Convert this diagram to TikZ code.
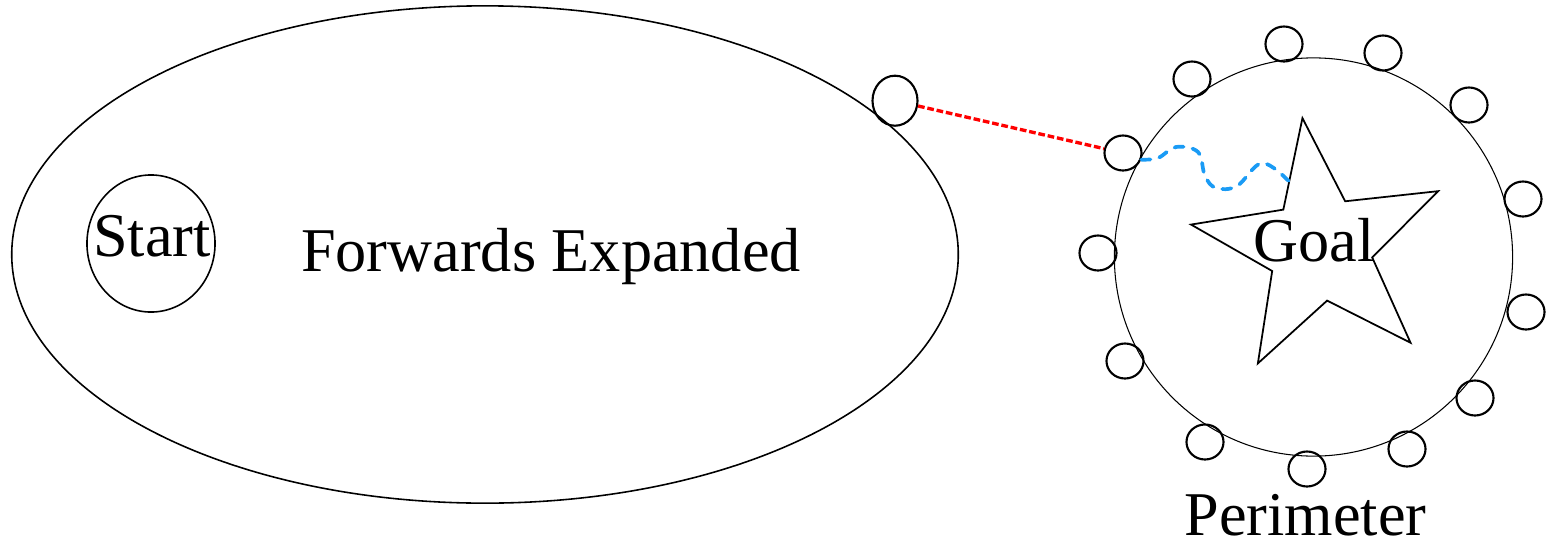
\documentclass[tikz,border=0pt]{standalone}
\usepackage{fontspec}
\setmainfont{Liberation Serif}
\usepackage{tikz}
\usetikzlibrary{shapes.geometric,calc}
\definecolor{PathBlue}{HTML}{1A9BF5}

\begin{document}
\begin{tikzpicture}[
  x=0.01cm,y=-0.01cm,
  every node/.style={font=\fontsize{17.7}{20}\selectfont},
  ring/.style={draw,ellipse,inner sep=0pt,line width=0.45pt},
  peri/.style={draw,ellipse,inner sep=0pt,minimum width=3.7mm,minimum height=3.5mm,line width=0.6pt},
  lbl/.style={anchor=base,inner sep=0pt},
  gap/.style={red,dash pattern=on 1.9pt off 0.8pt,line width=0.95pt},
  walk/.style={PathBlue,dash pattern=on 2.6pt off 2.6pt,line width=1.05pt,line cap=round}
]
\useasboundingbox (0,0) rectangle (1551,542);
\node[ring,minimum width=9.46cm,minimum height=4.97cm] (fwd) at (485,254.5) {};
\node[lbl] (fwdtext) at (551,271) {Forwards Expanded};
\node[ring,minimum width=1.28cm,minimum height=1.37cm] (start) at (151,243.5) {};
\node[lbl] (starttext) at (152,256.7) {Start};
\node[ring,circle,minimum size=3.98cm,line width=0.3pt] (goalarea) at (1313.5,257) {};
\node[draw,star,star points=5,star point ratio=2.47,shape border rotate=7.7,minimum size=2.62cm,inner sep=0pt,line width=0.5pt] (goalstar) at (1320,248) {};
\node[lbl] (goaltext) at (1314,261) {Goal};
\node[lbl] (peritext) at (1305.5,535) {Perimeter};
\node[peri,minimum width=4.5mm,minimum height=5mm] (frontier) at (895,100.7) {};
\foreach \px/\py [count=\i] in {1284/44,1383/53,1192/79,1469/105,1123/153,1523/199,1098/253,1526/312,1125/361,1475/398,1205/442,1407/449,1307/469}
  \node[peri] (p\i) at (\px,\py) {};
\coordinate (meet) at ($(goalstar.outer point 1)!0.7!(goalstar.inner point 1)$);
\draw[gap] (frontier) -- (p5);
\draw[walk] plot[smooth,tension=0.6] coordinates {(p5.-20) (1158,158) (1176,147) (1198,152) (1205,176) (1216,188) (1237,186) (1262,163) (meet)};
\end{tikzpicture}
\end{document}
